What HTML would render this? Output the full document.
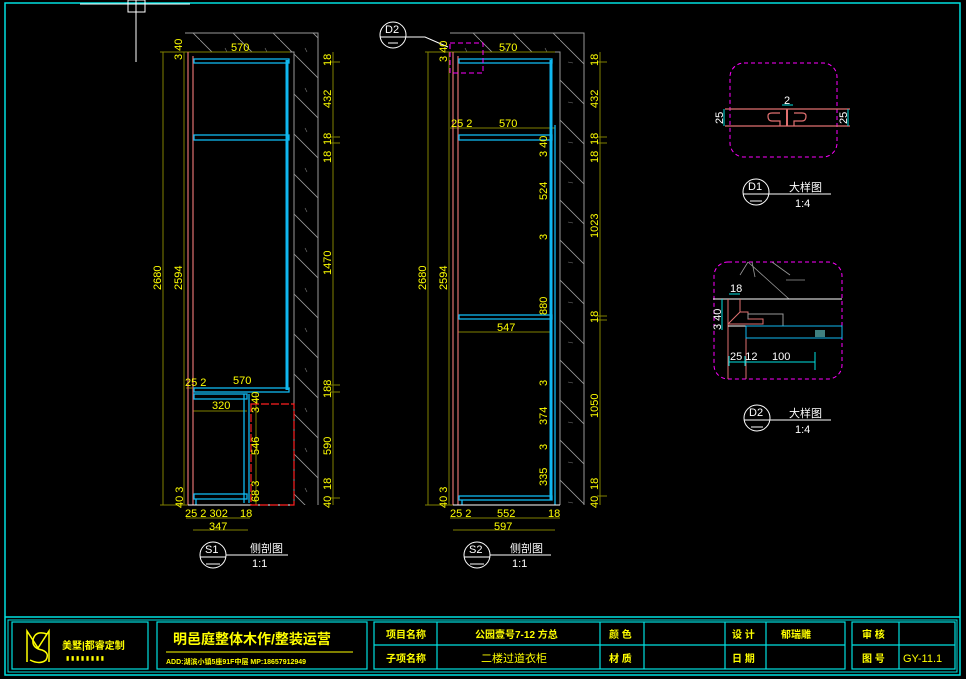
<!DOCTYPE html>
<html><head><meta charset="utf-8"><style>
html,body{margin:0;padding:0;background:#000;}
svg{display:block;}
text{font-family:"Liberation Sans","Noto Sans CJK SC",sans-serif;}
.d{fill:#ffff00;font-size:11px;}
.w{fill:#fff;font-size:11px;}
.t{fill:#ffff00;font-size:10px;font-weight:bold;}
</style></head><body>
<svg width="966" height="679" viewBox="0 0 966 679" xmlns="http://www.w3.org/2000/svg">
<defs>
<pattern id="h" width="40" height="40" patternUnits="userSpaceOnUse">
<line x1="0" y1="0" x2="40" y2="40" stroke="#9a9a9a" stroke-width="0.8"/>
<line x1="8" y1="22" x2="13" y2="23" stroke="#777" stroke-width="0.6"/>
<line x1="25" y1="8" x2="27" y2="12" stroke="#777" stroke-width="0.6"/>
</pattern>
</defs>
<rect width="966" height="679" fill="#000"/>
<rect x="5" y="3" width="955" height="672" fill="none" stroke="#00e0e0" stroke-width="1.5"/>
<line x1="5" y1="617" x2="960" y2="617" stroke="#00e0e0" stroke-width="1.5"/>
<rect x="8" y="620" width="949" height="52" fill="none" stroke="#00e0e0" stroke-width="1"/>
<line x1="80" y1="4" x2="190" y2="4" stroke="#fff" stroke-width="1"/>
<rect x="128" y="0" width="17" height="12" fill="none" stroke="#fff"/>
<line x1="136" y1="0" x2="136" y2="62" stroke="#fff"/>

<!-- ===== S1 ===== -->
<path d="M185 33 H318 V505 H294 V52 H192 Z" fill="url(#h)"/>
<path d="M185 33 H318 V505 M294 505 V52 H192" fill="none" stroke="#999" stroke-width="1"/>
<g stroke="#808000" stroke-width="1">
<line x1="163" y1="52" x2="163" y2="505"/><line x1="184" y1="52" x2="184" y2="505"/>
<line x1="160" y1="52" x2="200" y2="52"/><line x1="160" y1="505" x2="200" y2="505"/>
<line x1="193" y1="52" x2="290" y2="52"/>
<line x1="186" y1="388" x2="290" y2="388"/>
<line x1="193" y1="411" x2="247" y2="411"/>
<line x1="186" y1="518" x2="250" y2="518"/>
<line x1="193" y1="530" x2="248" y2="530"/>
<line x1="333" y1="52" x2="333" y2="505"/>
<line x1="330" y1="62" x2="340" y2="62"/><line x1="330" y1="137" x2="340" y2="137"/><line x1="330" y1="143" x2="340" y2="143"/><line x1="330" y1="385" x2="340" y2="385"/><line x1="330" y1="392" x2="340" y2="392"/><line x1="330" y1="498" x2="340" y2="498"/>
<line x1="256" y1="392" x2="256" y2="505"/>
</g>
<g stroke="#e07070" stroke-width="1.2"><line x1="188" y1="52" x2="188" y2="505"/><line x1="193" y1="56" x2="193" y2="505"/></g>
<g stroke="#10b8f0" stroke-width="1.3" fill="none">
<rect x="194" y="59" width="95" height="4"/>
<rect x="194" y="135" width="95" height="5"/>
<line x1="287" y1="60" x2="287" y2="390" stroke-width="3"/>
<rect x="194" y="388" width="95" height="4"/>
<rect x="194" y="394" width="53" height="5"/>
<line x1="244" y1="394" x2="244" y2="503"/><line x1="249" y1="394" x2="249" y2="503"/>
<rect x="194" y="494" width="53" height="5"/>
<line x1="196" y1="499" x2="196" y2="505"/>
</g>
<line x1="188" y1="505" x2="294" y2="505" stroke="#fff" stroke-width="1"/>
<rect x="251" y="404" width="43" height="101" fill="none" stroke="#ff2020" stroke-width="1.2" stroke-dasharray="8,2"/>
<text class="d" x="231" y="51">570</text>
<text class="d" transform="translate(182,60) rotate(-90)">3 40</text>
<text class="d" transform="translate(161,290) rotate(-90)">2680</text>
<text class="d" transform="translate(182,290) rotate(-90)">2594</text>
<text class="d" transform="translate(331,66) rotate(-90)">18</text>
<text class="d" transform="translate(331,108) rotate(-90)">432</text>
<text class="d" transform="translate(331,145) rotate(-90)">18</text>
<text class="d" transform="translate(331,163) rotate(-90)">18</text>
<text class="d" transform="translate(331,275) rotate(-90)">1470</text>
<text class="d" transform="translate(331,398) rotate(-90)">188</text>
<text class="d" transform="translate(331,455) rotate(-90)">590</text>
<text class="d" transform="translate(331,490) rotate(-90)">18</text>
<text class="d" transform="translate(331,508) rotate(-90)">40</text>
<text class="d" x="185" y="386">25 2</text>
<text class="d" x="233" y="384">570</text>
<text class="d" x="212" y="409">320</text>
<text class="d" transform="translate(259,413) rotate(-90)">3 40</text>
<text class="d" transform="translate(259,455) rotate(-90)">546</text>
<text class="d" transform="translate(259,502) rotate(-90)">68 3</text>
<text class="d" transform="translate(183,508) rotate(-90)">40 3</text>
<text class="d" x="185" y="517">25 2  302</text>
<text class="d" x="240" y="517">18</text>
<text class="d" x="209" y="530">347</text>
<circle cx="213" cy="555" r="13" fill="none" stroke="#fff"/><line x1="200" y1="557" x2="226" y2="557" stroke="#fff"/>
<text class="w" x="205" y="553">S1</text><line x1="206" y1="564" x2="220" y2="564" stroke="#fff"/>
<line x1="226" y1="555" x2="288" y2="555" stroke="#fff"/>
<text class="w" x="250" y="552" font-size="12">侧剖图</text><text class="w" x="252" y="567">1:1</text>

<!-- ===== S2 ===== -->
<path d="M450 33 H584 V505 H560 V52 H455 Z" fill="url(#h)"/>
<path d="M450 33 H584 V505 M560 505 V52 H455" fill="none" stroke="#999" stroke-width="1"/>
<g stroke="#808000" stroke-width="1">
<line x1="428" y1="52" x2="428" y2="505"/><line x1="449" y1="52" x2="449" y2="505"/>
<line x1="425" y1="52" x2="465" y2="52"/><line x1="425" y1="505" x2="465" y2="505"/>
<line x1="458" y1="52" x2="555" y2="52"/>
<line x1="450" y1="128" x2="555" y2="128"/>
<line x1="458" y1="332" x2="552" y2="332"/>
<line x1="450" y1="518" x2="560" y2="518"/>
<line x1="453" y1="530" x2="555" y2="530"/>
<line x1="600" y1="52" x2="600" y2="505"/>
<line x1="597" y1="62" x2="607" y2="62"/><line x1="597" y1="137" x2="607" y2="137"/><line x1="597" y1="143" x2="607" y2="143"/><line x1="597" y1="316" x2="607" y2="316"/><line x1="597" y1="320" x2="607" y2="320"/><line x1="597" y1="496" x2="607" y2="496"/>
</g>
<g stroke="#e07070" stroke-width="1.2"><line x1="453" y1="52" x2="453" y2="505"/><line x1="458" y1="56" x2="458" y2="505"/></g>
<g stroke="#10b8f0" stroke-width="1.3" fill="none">
<rect x="459" y="59" width="93" height="4"/>
<rect x="459" y="135" width="93" height="5"/>
<rect x="459" y="315" width="93" height="4"/>
<line x1="551" y1="60" x2="551" y2="500" stroke-width="3"/>
<line x1="555" y1="125" x2="555" y2="505"/>
<rect x="459" y="496" width="93" height="4"/>
<line x1="462" y1="500" x2="462" y2="505"/>
</g>
<line x1="453" y1="505" x2="560" y2="505" stroke="#fff" stroke-width="1"/>
<rect x="450" y="43" width="33" height="30" fill="none" stroke="#ff00ff" stroke-dasharray="5,3"/>
<circle cx="393" cy="35" r="13" fill="none" stroke="#fff"/><line x1="380" y1="37" x2="406" y2="37" stroke="#fff"/>
<text class="w" x="385" y="33">D2</text><line x1="388" y1="43" x2="398" y2="43" stroke="#fff"/>
<polyline points="406,37 425,37 448,47" fill="none" stroke="#fff"/>
<text class="d" x="499" y="51">570</text>
<text class="d" transform="translate(447,62) rotate(-90)">3 40</text>
<text class="d" transform="translate(426,290) rotate(-90)">2680</text>
<text class="d" transform="translate(447,290) rotate(-90)">2594</text>
<text class="d" x="451" y="127">25 2</text>
<text class="d" x="499" y="127">570</text>
<text class="d" transform="translate(547,157) rotate(-90)">3 40</text>
<text class="d" transform="translate(547,200) rotate(-90)">524</text>
<text class="d" transform="translate(547,240) rotate(-90)">3</text>
<text class="d" transform="translate(547,315) rotate(-90)">880</text>
<text class="d" x="497" y="331">547</text>
<text class="d" transform="translate(547,386) rotate(-90)">3</text>
<text class="d" transform="translate(547,425) rotate(-90)">374</text>
<text class="d" transform="translate(547,450) rotate(-90)">3</text>
<text class="d" transform="translate(547,486) rotate(-90)">335</text>
<text class="d" transform="translate(598,66) rotate(-90)">18</text>
<text class="d" transform="translate(598,108) rotate(-90)">432</text>
<text class="d" transform="translate(598,145) rotate(-90)">18</text>
<text class="d" transform="translate(598,163) rotate(-90)">18</text>
<text class="d" transform="translate(598,238) rotate(-90)">1023</text>
<text class="d" transform="translate(598,323) rotate(-90)">18</text>
<text class="d" transform="translate(598,418) rotate(-90)">1050</text>
<text class="d" transform="translate(598,490) rotate(-90)">18</text>
<text class="d" transform="translate(598,508) rotate(-90)">40</text>
<text class="d" transform="translate(447,508) rotate(-90)">40 3</text>
<text class="d" x="450" y="517">25 2</text>
<text class="d" x="497" y="517">552</text>
<text class="d" x="548" y="517">18</text>
<text class="d" x="494" y="530">597</text>
<circle cx="477" cy="555" r="13" fill="none" stroke="#fff"/><line x1="464" y1="557" x2="490" y2="557" stroke="#fff"/>
<text class="w" x="469" y="553">S2</text><line x1="470" y1="564" x2="484" y2="564" stroke="#fff"/>
<line x1="490" y1="555" x2="551" y2="555" stroke="#fff"/>
<text class="w" x="510" y="552" font-size="12">侧剖图</text><text class="w" x="512" y="567">1:1</text>

<!-- ===== D1 ===== -->
<rect x="730" y="63" width="107" height="94" rx="14" fill="none" stroke="#ff00ff" stroke-dasharray="4,3"/>
<g stroke="#e07070" stroke-width="1.2" fill="none">
<line x1="725" y1="109" x2="850" y2="109"/><line x1="725" y1="126" x2="850" y2="126"/>
<line x1="787" y1="109" x2="787" y2="126" stroke-width="2"/>
<path d="M780 126 V121 H772 Q768 121 768 116 Q768 113 772 113 H780 M794 126 V121 H802 Q806 121 806 116 Q806 113 802 113 H794"/>
</g>
<g stroke="#00e0e0"><line x1="724" y1="109" x2="724" y2="126"/><line x1="848" y1="109" x2="848" y2="126"/><line x1="782" y1="105" x2="793" y2="105"/></g>
<text class="w" transform="translate(723,124) rotate(-90)" font-size="10">25</text>
<text class="w" transform="translate(847,124) rotate(-90)" font-size="10">25</text>
<text class="w" x="784" y="104" font-size="10">2</text>
<circle cx="756" cy="192" r="13" fill="none" stroke="#fff"/><line x1="743" y1="194" x2="769" y2="194" stroke="#fff"/>
<text class="w" x="748" y="190">D1</text><line x1="750" y1="201" x2="762" y2="201" stroke="#fff"/>
<line x1="769" y1="194" x2="831" y2="194" stroke="#fff"/>
<text class="w" x="789" y="191" font-size="12">大样图</text><text class="w" x="795" y="207">1:4</text>

<!-- ===== D2 ===== -->
<rect x="714" y="262" width="128" height="117" rx="14" fill="none" stroke="#ff00ff" stroke-dasharray="4,3"/>
<g stroke="#999" stroke-width="0.8"><line x1="748" y1="262" x2="789" y2="299"/><line x1="748" y1="262" x2="740" y2="275"/><line x1="752" y1="262" x2="755" y2="277"/><line x1="786" y1="280" x2="805" y2="280"/><line x1="772" y1="262" x2="790" y2="275"/></g>
<line x1="713" y1="299" x2="842" y2="299" stroke="#fff"/>
<g stroke="#e07070" fill="none"><line x1="728" y1="299" x2="728" y2="379"/><line x1="740" y1="299" x2="740" y2="312"/><path d="M740 312 L728 324 M740 312 H748 V319 H763 V324 H728"/><line x1="746" y1="326" x2="746" y2="379"/></g>
<path d="M748 319 V314 H783 V326" fill="none" stroke="#999"/>
<line x1="728" y1="326" x2="746" y2="326" stroke="#fff"/>
<rect x="746" y="326" width="96" height="12" fill="none" stroke="#10b8f0"/>
<rect x="815" y="330" width="10" height="7" fill="#408080"/>
<g stroke="#00e0e0"><line x1="729" y1="362" x2="815" y2="362"/><line x1="729" y1="356" x2="729" y2="366"/><line x1="745" y1="356" x2="745" y2="366"/><line x1="815" y1="352" x2="815" y2="370"/><line x1="722" y1="299" x2="722" y2="330"/><line x1="729" y1="294" x2="740" y2="294"/></g>
<text class="w" x="730" y="360" font-size="10">25 12</text><text class="w" x="772" y="360" font-size="10">100</text>
<text class="w" x="730" y="292" font-size="10">18</text>
<text class="w" transform="translate(721,330) rotate(-90)" font-size="10">3 40</text>
<circle cx="757" cy="418" r="13" fill="none" stroke="#fff"/><line x1="744" y1="420" x2="770" y2="420" stroke="#fff"/>
<text class="w" x="749" y="416">D2</text><line x1="751" y1="427" x2="763" y2="427" stroke="#fff"/>
<line x1="770" y1="420" x2="831" y2="420" stroke="#fff"/>
<text class="w" x="789" y="417" font-size="12">大样图</text><text class="w" x="795" y="433">1:4</text>

<!-- ===== Title block ===== -->
<g stroke="#00e0e0" stroke-width="1.2" fill="none">
<rect x="12" y="622" width="136" height="47"/>
<rect x="157" y="622" width="210" height="47"/>
<rect x="374" y="622" width="471" height="47"/>
<rect x="852" y="622" width="103" height="47"/>
<line x1="374" y1="645" x2="845" y2="645"/>
<line x1="852" y1="645" x2="955" y2="645"/>
<line x1="437" y1="622" x2="437" y2="669"/>
<line x1="600" y1="622" x2="600" y2="669"/>
<line x1="644" y1="622" x2="644" y2="669"/>
<line x1="725" y1="622" x2="725" y2="669"/>
<line x1="766" y1="622" x2="766" y2="669"/>
<line x1="899" y1="622" x2="899" y2="669"/>
</g>
<g fill="none" stroke="#ffff00" stroke-width="1.5">
<path d="M27 662 V631 L38 648 L49 631 V662"/>
<path d="M47 634 Q35 630 33 640 Q32 648 42 650 Q50 653 46 660 Q40 665 30 660"/>
</g>
<text x="62" y="649" class="t" font-size="10">美墅|都睿定制</text>
<text x="66" y="660" fill="#ffff00" font-size="6">▮ ▮ ▮ ▮   ▮ ▮ ▮ ▮</text>
<text x="173" y="644" fill="#ffff00" font-size="14" font-weight="bold">明邑庭整体木作/整装运营</text>
<line x1="166" y1="652" x2="353" y2="652" stroke="#ffff00"/>
<text x="166" y="664" fill="#ffff00" font-size="7" font-weight="bold">ADD:湖滨小镇5座91F中层  MP:18657912949</text>
<text x="386" y="638" class="t">项目名称</text>
<text x="475" y="638" class="t">公园壹号7-12   方总</text>
<text x="609" y="638" class="t">颜 色</text>
<text x="732" y="638" class="t">设 计</text>
<text x="781" y="638" class="t">郁瑞雕</text>
<text x="386" y="662" class="t">子项名称</text>
<text x="481" y="662" fill="#ffff00" font-size="11">二楼过道衣柜</text>
<text x="609" y="662" class="t">材 质</text>
<text x="732" y="662" class="t">日 期</text>
<text x="862" y="638" class="t">审 核</text>
<text x="862" y="662" class="t">图 号</text>
<text x="903" y="662" fill="#ffff00" font-size="11">GY-11.1</text>
</svg>
</body></html>
